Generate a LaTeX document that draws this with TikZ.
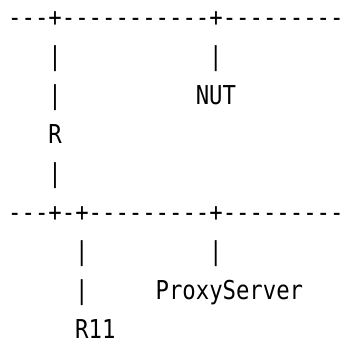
\documentclass[tikz,border=0pt]{standalone}
\usepackage{fontspec}
\newfontfamily\asciifont[FakeStretch=0.857, Ligatures=TeXOff]{DejaVu Sans Mono}
\usepackage{tikz}
\usetikzlibrary{positioning}

\begin{document}
\begin{tikzpicture}[x=13.4pt, y=-39pt, txt/.style = {anchor=base west, inner sep=0pt, font=\asciifont\fontsize{26}{30}\selectfont}]
        \useasboundingbox (-0.597,-0.667) rectangle (24.851,8.051);
        \node[txt] (busA) at (0,0) {---+-----------+---------}; % upper segment
        \node[txt] (barA1) at (3,1) {|};
        \node[txt] (barB1) at (15,1) {|};
        \node[txt] (barA2) at (3,2) {|};
        \node[txt] (nut) at (14,2) {NUT};
        \node[txt] (r) at (3,3) {R};
        \node[txt] (barA3) at (3,4) {|};
        \node[txt] (busB) at (0,5) {---+-+---------+---------}; % lower segment
        \node[txt] (barC1) at (5,6) {|};
        \node[txt] (barD1) at (15,6) {|};
        \node[txt] (barC2) at (5,7) {|};
        \node[txt] (proxy) at (11,7) {ProxyServer};
        \node[txt] (r11) at (5,8) {R11};
      \end{tikzpicture}
\end{document}
